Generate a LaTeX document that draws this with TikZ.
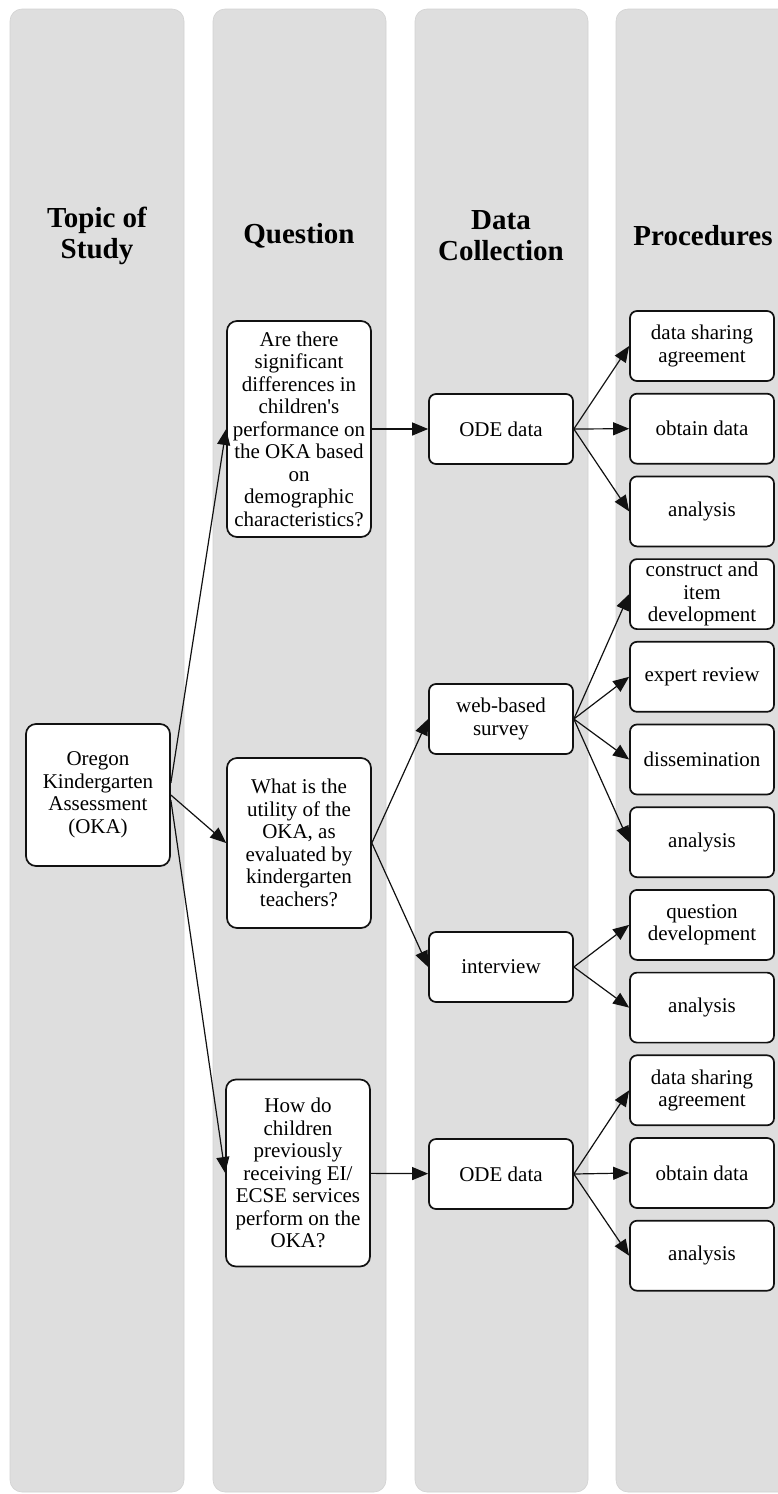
\documentclass[tikz,border=0pt]{standalone}
\usepackage{fontspec}
\setmainfont{Liberation Serif}
\usepackage{xcolor}
\usepackage{tikz}
\usetikzlibrary{arrows.meta,positioning}
\definecolor{LaneGray}{HTML}{DEDEDE}
\definecolor{LaneEdge}{HTML}{D2D2D2}
\definecolor{BoxLine}{HTML}{111111}
\tikzset{
  lane/.style={fill=LaneGray,draw=LaneEdge,line width=0.6pt,rounded corners=12pt},
  lanehead/.style={font=\fontsize{29}{31}\selectfont\bfseries,align=center},
  box/.style={draw=BoxLine,line width=1.7pt,rounded corners=7pt,fill=white,align=center,
    font=\fontsize{21}{22.5}\selectfont,minimum width=144pt,minimum height=70pt,inner sep=1.5pt},
  topicbox/.style={box,rounded corners=10pt,minimum height=142pt},
  qbox/.style={box,rounded corners=10pt},
  procbox/.style={box},
  flow/.style={-{Triangle[length=16pt,width=13pt]},line width=1.2pt,draw=BoxLine}
}
\begin{document}
\begin{tikzpicture}[x=1pt,y=-1pt,node distance=11pt]
  \path[use as bounding box] (0,0) rectangle (777,1494);
  % lanes
  \draw[lane] (10,9) rectangle (184,1492);
  \draw[lane] (213,9) rectangle (386,1492);
  \draw[lane] (415,9) rectangle (588,1492);
  \draw[lane] (616,9) rectangle (800,1492);
  \node[lanehead] (htopic) at (97,236) {Topic of\\Study};
  \node[lanehead] (hquest) at (299,236) {Question};
  \node[lanehead] (hdata) at (501,236) {Data\\Collection};
  \node[lanehead] (hproc) at (703,236) {Procedures};
  % topic and questions
  \node[topicbox] (oka) at (98,795) {Oregon\\Kindergarten\\Assessment\\(OKA)};
  \node[qbox,minimum height=216pt] (q1) at (299,429) {Are there\\significant\\differences in\\children\textquotesingle s\\performance on\\the OKA based\\on\\demographic\\characteristics?};
  \node[qbox,minimum height=170pt] (q2) at (299,843) {What is the\\utility of the\\OKA, as\\evaluated by\\kindergarten\\teachers?};
  \node[qbox,minimum height=187pt] (q3) at (298,1173) {How do\\children\\previously\\receiving EI/\\ECSE services\\perform on the\\OKA?};
  % data collection
  \node[box] (ode1) at (501,429) {ODE data};
  \node[box] (survey) at (501,719) {web-based\\survey};
  \node[box] (interview) at (501,967) {interview};
  \node[box] (ode2) at (501,1174) {ODE data};
  % procedures
  \node[procbox] (share1) at (702,346) {data sharing\\agreement};
  \node[procbox,below=of share1] (obtain1) {obtain data};
  \node[procbox,below=of obtain1] (anal1) {analysis};
  \node[procbox,below=of anal1] (construct) {construct and\\item\\development};
  \node[procbox,below=of construct] (expert) {expert review};
  \node[procbox,below=of expert] (dissem) {dissemination};
  \node[procbox,below=of dissem] (anal2) {analysis};
  \node[procbox,below=of anal2] (qdev) {question\\development};
  \node[procbox,below=of qdev] (anal3) {analysis};
  \node[procbox,below=of anal3] (share2) {data sharing\\agreement};
  \node[procbox,below=of share2] (obtain2) {obtain data};
  \node[procbox,below=of obtain2] (anal4) {analysis};
  % connectors
  \draw[flow] ([yshift=12pt]oka.east) -- (q1.west);
  \draw[flow] (oka.east) -- (q2.west);
  \draw[flow] ([yshift=-5pt]oka.east) -- (q3.west);
  \draw[flow] (q1) -- (ode1);
  \draw[flow] (q2.east) -- (survey.west);
  \draw[flow] (q2.east) -- (interview.west);
  \draw[flow] (q3) -- (ode2);
  \foreach \dst in {share1,obtain1,anal1} \draw[flow] (ode1.east) -- (\dst.west);
  \foreach \dst in {construct,expert,dissem,anal2} \draw[flow] (survey.east) -- (\dst.west);
  \foreach \dst in {qdev,anal3} \draw[flow] (interview.east) -- (\dst.west);
  \foreach \dst in {share2,obtain2,anal4} \draw[flow] (ode2.east) -- (\dst.west);
\end{tikzpicture}
\end{document}
